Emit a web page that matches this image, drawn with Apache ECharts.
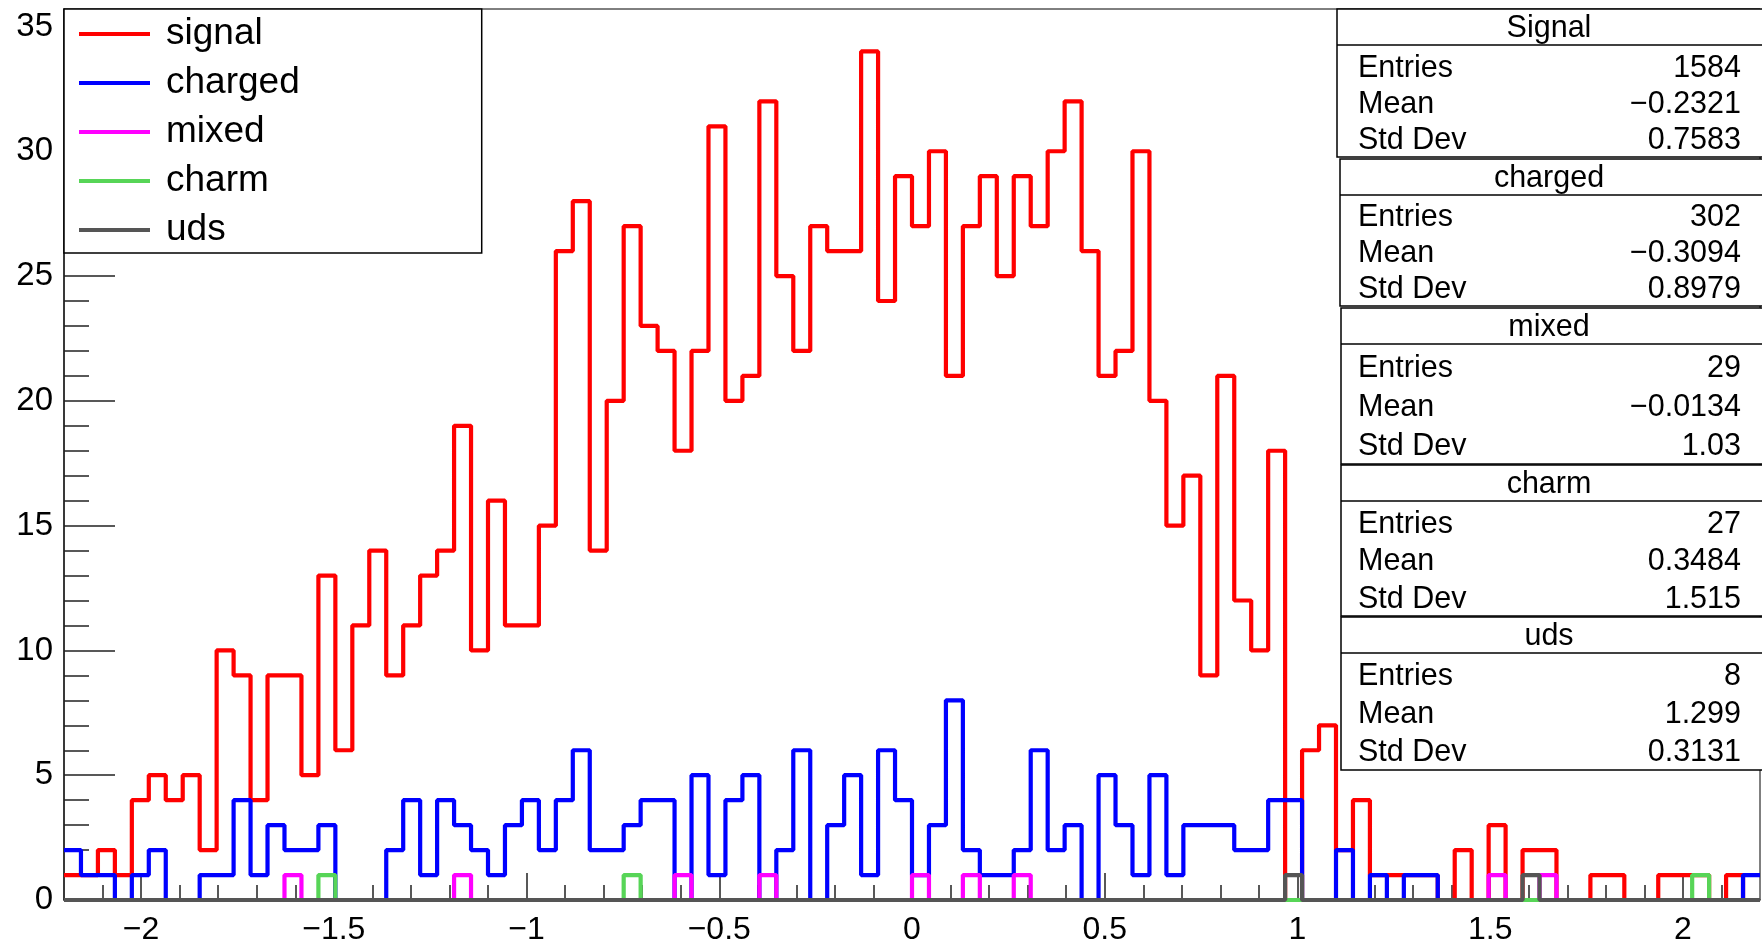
<!DOCTYPE html>
<html>
<head>
<meta charset="utf-8">
<script src="https://cdn.jsdelivr.net/npm/echarts@6/dist/echarts.min.js"></script>
<style>
  html, body { margin: 0; padding: 0; background: #fff; }
  #chart { width: 1762px; height: 941px; }
</style>
</head>
<body>
<div id="chart"></div>
<script>
// histogram binning: 100 bins from -2.2 to 2.2
const binLow = -2.2;
const binHigh = 2.2;
const binCount = 100;

const signalCounts = [
  1, 1, 2, 1, 4, 5, 4, 5, 2, 10,
  9, 4, 9, 9, 5, 13, 6, 11, 14, 9,
  11, 13, 14, 19, 10, 16, 11, 11, 15, 26,
  28, 14, 20, 27, 23, 22, 18, 22, 31, 20,
  21, 32, 25, 22, 27, 26, 26, 34, 24, 29,
  27, 30, 21, 27, 29, 25, 29, 27, 30, 32,
  26, 21, 22, 30, 20, 15, 17, 9, 21, 12,
  10, 18, 0, 6, 7, 2, 4, 1, 1, 1,
  1, 0, 2, 0, 3, 0, 2, 2, 0, 0,
  1, 1, 0, 0, 1, 1, 1, 0, 1, 0
];
const chargedCounts = [
  2, 1, 1, 0, 1, 2, 0, 0, 1, 1,
  4, 1, 3, 2, 2, 3, 0, 0, 0, 2,
  4, 1, 4, 3, 2, 1, 3, 4, 2, 4,
  6, 2, 2, 3, 4, 4, 0, 5, 1, 4,
  5, 0, 2, 6, 0, 3, 5, 1, 6, 4,
  1, 3, 8, 2, 1, 1, 2, 6, 2, 3,
  0, 5, 3, 1, 5, 1, 3, 3, 3, 2,
  2, 4, 4, 0, 0, 2, 0, 1, 0, 1,
  1, 0, 0, 0, 0, 0, 0, 0, 0, 0,
  0, 0, 0, 0, 0, 0, 0, 0, 0, 1
];
const mixedCounts = [
  0, 0, 0, 0, 0, 0, 0, 0, 0, 0,
  0, 0, 0, 1, 0, 0, 0, 0, 0, 0,
  0, 0, 0, 1, 0, 0, 0, 0, 0, 0,
  0, 0, 0, 0, 0, 0, 1, 0, 0, 0,
  0, 1, 0, 0, 0, 0, 0, 0, 0, 0,
  1, 0, 0, 1, 0, 0, 1, 0, 0, 0,
  0, 0, 0, 0, 0, 0, 0, 0, 0, 0,
  0, 0, 0, 0, 0, 0, 0, 0, 0, 0,
  0, 0, 0, 0, 1, 0, 0, 1, 0, 0,
  0, 0, 0, 0, 0, 0, 0, 0, 0, 0
];
const charmCounts = [
  0, 0, 0, 0, 0, 0, 0, 0, 0, 0,
  0, 0, 0, 0, 0, 1, 0, 0, 0, 0,
  0, 0, 0, 0, 0, 0, 0, 0, 0, 0,
  0, 0, 0, 1, 0, 0, 0, 0, 0, 0,
  0, 0, 0, 0, 0, 0, 0, 0, 0, 0,
  0, 0, 0, 0, 0, 0, 0, 0, 0, 0,
  0, 0, 0, 0, 0, 0, 0, 0, 0, 0,
  0, 0, 0, 0, 0, 0, 0, 0, 0, 0,
  0, 0, 0, 0, 0, 0, 0, 0, 0, 0,
  0, 0, 0, 0, 0, 0, 1, 0, 0, 0
];
const udsCounts = [
  0, 0, 0, 0, 0, 0, 0, 0, 0, 0,
  0, 0, 0, 0, 0, 0, 0, 0, 0, 0,
  0, 0, 0, 0, 0, 0, 0, 0, 0, 0,
  0, 0, 0, 0, 0, 0, 0, 0, 0, 0,
  0, 0, 0, 0, 0, 0, 0, 0, 0, 0,
  0, 0, 0, 0, 0, 0, 0, 0, 0, 0,
  0, 0, 0, 0, 0, 0, 0, 0, 0, 0,
  0, 0, 1, 0, 0, 0, 0, 0, 0, 0,
  0, 0, 0, 0, 0, 0, 1, 0, 0, 0,
  0, 0, 0, 0, 0, 0, 0, 0, 0, 0
];

const seriesNames = ['signal', 'charged', 'mixed', 'charm', 'uds'];
const seriesColors = ['#ff0000', '#0000ff', '#ff00ff', '#57d557', '#555555'];

// stats boxes
const statTitles = ['Signal', 'charged', 'mixed', 'charm', 'uds'];
const statEntries = ['1584', '302', '29', '27', '8'];
const statMeans = ['\u22120.2321', '\u22120.3094', '\u22120.0134', '0.3484', '1.299'];
const statStdDevs = ['0.7583', '0.8979', '1.03', '1.515', '0.3131'];

// axis ticks
const xMajorTicks = [-2, -1.5, -1, -0.5, 0, 0.5, 1, 1.5, 2];
const xMinorTicks = [-2.1, -1.9, -1.8, -1.7, -1.6, -1.4, -1.3, -1.2, -1.1, -0.9, -0.8, -0.7, -0.6,
  -0.4, -0.3, -0.2, -0.1, 0.1, 0.2, 0.3, 0.4, 0.6, 0.7, 0.8, 0.9, 1.1, 1.2, 1.3, 1.4,
  1.6, 1.7, 1.8, 1.9, 2.1];
const yMajorTicks = [0, 5, 10, 15, 20, 25, 30, 35];
const yMinorTicks = [1, 2, 3, 4, 6, 7, 8, 9, 11, 12, 13, 14, 16, 17, 18, 19, 21, 22, 23, 24,
  26, 27, 28, 29, 31, 32, 33, 34];
const yMax = 35.7;

const FONT = 'Liberation Sans';
const binWidth = (binHigh - binLow) / binCount;

function toSteps(counts) {
  const pts = counts.map((c, i) => [binLow + i * binWidth, c]);
  pts.push([binHigh, counts[counts.length - 1]]);
  return pts;
}

function minusSign(v) {
  return String(v).replace('-', '\u2212');
}

function statsBox(i, left, top, height) {
  const width = 1762 - left + 10;
  const rowTop = top + 41;
  const rowStep = (height - 39) / 3;
  const label = (txt, y) => ({
    type: 'text', z: 101,
    style: {text: txt, x: 1358, y: y, fontSize: 30.5, fontFamily: FONT, fill: '#000',
      align: 'left', verticalAlign: 'middle'}
  });
  const value = (txt, y) => ({
    type: 'text', z: 101,
    style: {text: txt, x: 1741, y: y, fontSize: 30.5, fontFamily: FONT, fill: '#000',
      align: 'right', verticalAlign: 'middle'}
  });
  return [
    {type: 'rect', z: 100, shape: {x: left, y: top, width: width, height: height},
      style: {fill: '#fff', stroke: '#000', lineWidth: 1.5}},
    {type: 'line', z: 101, shape: {x1: left, y1: top + 36, x2: 1762, y2: top + 36},
      style: {stroke: '#000', lineWidth: 1.5}},
    {type: 'text', z: 101,
      style: {text: statTitles[i], x: 1549, y: top + 20, fontSize: 30.5, fontFamily: FONT,
        fill: '#000', align: 'center', verticalAlign: 'middle'}},
    label('Entries', rowTop + rowStep * 0.5),
    label('Mean', rowTop + rowStep * 1.5),
    label('Std Dev', rowTop + rowStep * 2.5),
    value(statEntries[i], rowTop + rowStep * 0.5),
    value(statMeans[i], rowTop + rowStep * 1.5),
    value(statStdDevs[i], rowTop + rowStep * 2.5)
  ];
}

const chart = echarts.init(document.getElementById('chart'));
const allCounts = [signalCounts, chargedCounts, mixedCounts, charmCounts, udsCounts];
const boxLefts = [1337, 1340, 1341, 1341, 1341];
const boxTops = [9, 159, 308, 465, 617];
const boxHeights = [148, 147, 156, 151, 153];

let graphics = [];
for (let i = 0; i < statTitles.length; i++) {
  graphics = graphics.concat(statsBox(i, boxLefts[i], boxTops[i], boxHeights[i]));
}

chart.setOption({
  animation: false,
  backgroundColor: '#fff',
  textStyle: {fontFamily: FONT},
  grid: {
    left: 64, right: 2, top: 9, bottom: 41,
    outerBoundsMode: 'none',
    show: true, borderColor: '#000', borderWidth: 1
  },
  legend: {
    orient: 'vertical',
    left: 64,
    top: 9,
    padding: [5, 182, 3, 15],
    itemWidth: 71,
    itemHeight: 4,
    itemGap: 9,
    icon: 'rect',
    selectedMode: false,
    backgroundColor: '#fff',
    borderColor: '#000',
    borderWidth: 1.5,
    data: seriesNames,
    textStyle: {fontSize: 37, lineHeight: 40, color: '#000', fontFamily: FONT, padding: [0, 0, 0, 11]}
  },
  xAxis: [
    {
      type: 'value', min: binLow, max: binHigh, position: 'bottom',
      axisLine: {onZero: false, lineStyle: {color: '#222', width: 1.5}},
      axisTick: {inside: true, length: 27, customValues: xMajorTicks, lineStyle: {color: '#222', width: 1.5}},
      axisLabel: {customValues: xMajorTicks, fontSize: 32, color: '#000', margin: 14, formatter: minusSign},
      splitLine: {show: false}
    },
    {
      type: 'value', min: binLow, max: binHigh, position: 'bottom',
      axisLine: {show: false, onZero: false},
      axisTick: {inside: true, length: 15, customValues: xMinorTicks, lineStyle: {color: '#222', width: 1.5}},
      axisLabel: {show: false},
      splitLine: {show: false}
    }
  ],
  yAxis: [
    {
      type: 'value', min: 0, max: yMax, position: 'left',
      axisLine: {show: true, onZero: false, lineStyle: {color: '#222', width: 1.5}},
      axisTick: {show: true, inside: true, length: 51, customValues: yMajorTicks, lineStyle: {color: '#222', width: 1.5}},
      axisLabel: {customValues: yMajorTicks, fontSize: 33, color: '#000', margin: 11, padding: [6, 0, 0, 0]},
      splitLine: {show: false}
    },
    {
      type: 'value', min: 0, max: yMax, position: 'left',
      axisLine: {show: false, onZero: false},
      axisTick: {show: true, inside: true, length: 25, customValues: yMinorTicks, lineStyle: {color: '#222', width: 1.5}},
      axisLabel: {show: false},
      splitLine: {show: false}
    }
  ],
  series: seriesNames.map((name, i) => ({
    name: name,
    type: 'line',
    step: 'end',
    xAxisIndex: 0,
    yAxisIndex: 0,
    showSymbol: false,
    symbol: 'none',
    clip: true,
    color: seriesColors[i],
    lineStyle: {color: seriesColors[i], width: 4.2},
    itemStyle: {color: seriesColors[i]},
    data: toSteps(allCounts[i])
  })),
  graphic: graphics
});
</script>
</body>
</html>
